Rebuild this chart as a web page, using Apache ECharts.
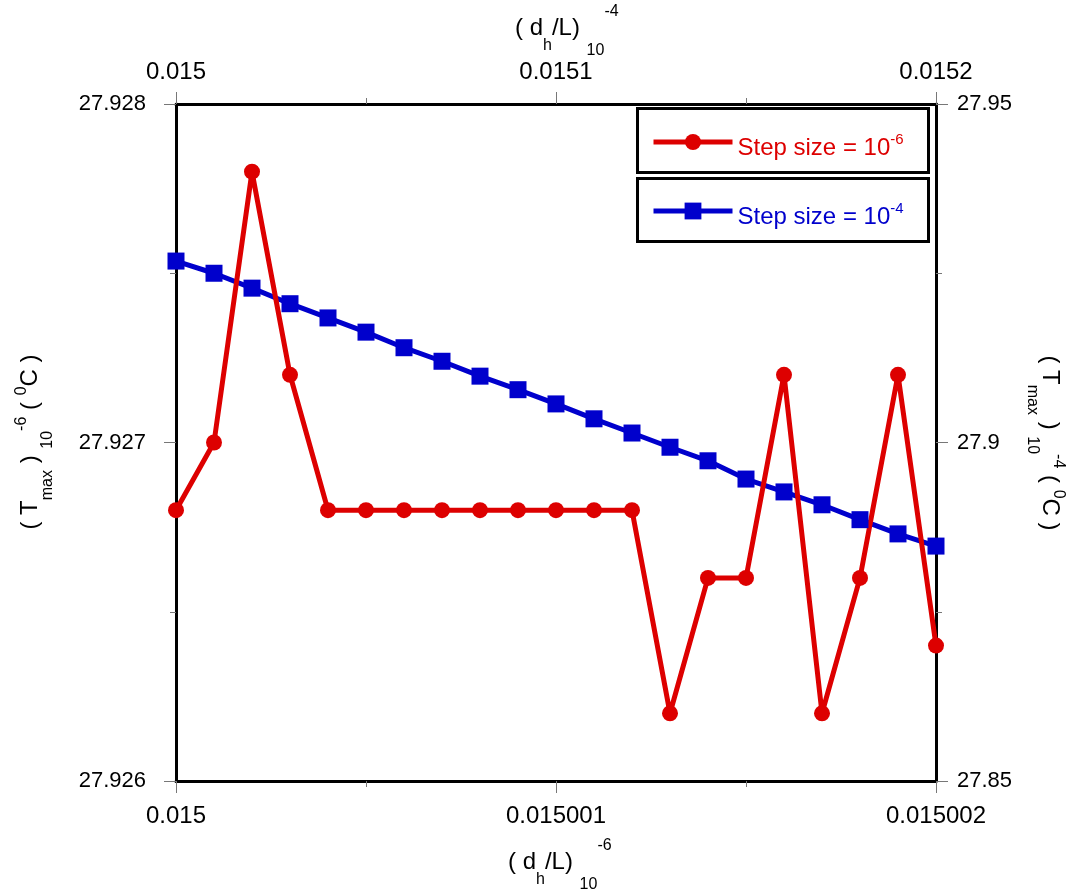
<!DOCTYPE html>
<html><head><meta charset="utf-8">
<script src="https://cdn.jsdelivr.net/npm/echarts@6/dist/echarts.min.js"></script>
<style>html,body{margin:0;padding:0;background:#fff}#c{width:1069px;height:892px}</style>
</head><body><div id="c"></div>
<script>
// ---- data ----
const redX = [0.015, 0.0150001, 0.0150002, 0.0150003, 0.0150004, 0.0150005, 0.0150006, 0.0150007, 0.0150008, 0.0150009, 0.015001,
              0.0150011, 0.0150012, 0.0150013, 0.0150014, 0.0150015, 0.0150016, 0.0150017, 0.0150018, 0.0150019, 0.015002];
const redY = [27.9268, 27.9270, 27.9278, 27.9272, 27.9268, 27.9268, 27.9268, 27.9268, 27.9268, 27.9268, 27.9268,
              27.9268, 27.9268, 27.9262, 27.9266, 27.9266, 27.9272, 27.9262, 27.9266, 27.9272, 27.9264];
const blueX = [0.015, 0.01501, 0.01502, 0.01503, 0.01504, 0.01505, 0.01506, 0.01507, 0.01508, 0.01509, 0.0151,
               0.01511, 0.01512, 0.01513, 0.01514, 0.01515, 0.01516, 0.01517, 0.01518, 0.01519, 0.0152];
const blueY = [27.9268, 27.9250, 27.9228, 27.9205, 27.9184, 27.9163, 27.9140, 27.9120, 27.9098, 27.9078, 27.9057,
               27.9035, 27.9014, 27.8993, 27.8973, 27.8946, 27.8927, 27.8908, 27.8886, 27.8865, 27.8847];
const bottomTickLabels = ['0.015', '0.015001', '0.015002'];
const topTickLabels = ['0.015', '0.0151', '0.0152'];
const leftTickLabels = ['27.926', '27.927', '27.928'];
const rightTickLabels = ['27.85', '27.9', '27.95'];
const redName = 'Step size = 10^-6';
const blueName = 'Step size = 10^-4';

// ---- styling ----
const FF = '"Liberation Sans", Arial, Helvetica, sans-serif';
const RED = '#dd0000', BLUE = '#0000cc';
const tickStyle = {color: '#777', width: 1};

function valAxis(o) {
  return Object.assign({
    type: 'value',
    axisLine: {show: true, onZero: false, lineStyle: {color: '#000', width: 3}},
    axisTick: {show: true, inside: false, length: 12, lineStyle: tickStyle},
    minorTick: {show: true, splitNumber: 2, length: 6, lineStyle: tickStyle},
    splitLine: {show: false},
    minorSplitLine: {show: false}
  }, o);
}
function lbl(labels, size, margin) {
  return {show: true, margin: margin, fontSize: size, fontFamily: FF, color: '#000',
          formatter: (v, i) => (labels[i] !== undefined ? labels[i] : '')};
}
function tok(size, pad, color) {
  return {fontSize: size, lineHeight: size, fontFamily: FF, color: color || '#000', verticalAlign: 'top', padding: [pad, 0, 0, 0]};
}
const hRich = {n: tok(24, 12), h: tok(16, 34), s: tok(16, 39), p: tok(16, 0)};
const vRich = {n: tok(24, 8), s: tok(16, 30), p: tok(16, 4)};
function legend(name, top, color, sup, ih) {
  return {
    data: [name], left: 651, top: top, orient: 'horizontal', selectedMode: false,
    borderWidth: 0, padding: 0,
    itemWidth: 79, itemHeight: ih, itemGap: 0,
    lineStyle: {width: 5},
    formatter: () => '{n|Step size = 10}{p|' + sup + '}',
    textStyle: {color: color, fontFamily: FF, rich: {n: tok(24, 6, color), p: tok(15, 2, color)}}
  };
}

const chart = echarts.init(document.getElementById('c'));
chart.setOption({
  animation: false,
  backgroundColor: '#fff',
  grid: {left: 176, right: 133, top: 104, bottom: 111, containLabel: false},
  xAxis: [
    valAxis({position: 'bottom', min: 0.015, max: 0.015002, interval: 0.000001, axisLabel: lbl(bottomTickLabels, 24, 23)}),
    valAxis({position: 'top', min: 0.015, max: 0.0152, interval: 0.0001, axisLabel: lbl(topTickLabels, 24, 20)})
  ],
  yAxis: [
    valAxis({position: 'left', min: 27.926, max: 27.928, interval: 0.001, axisLabel: lbl(leftTickLabels, 22, 30)}),
    valAxis({position: 'right', min: 27.85, max: 27.95, interval: 0.05, axisLabel: lbl(rightTickLabels, 22, 21)})
  ],
  legend: [legend(redName, 130, RED, '-6', 20), legend(blueName, 199, BLUE, '-4', 21)],
  graphic: [
    {type: 'rect', shape: {x: 637.5, y: 108.5, width: 291, height: 64}, style: {fill: 'none', stroke: '#000', lineWidth: 3}},
    {type: 'rect', shape: {x: 637.5, y: 178.5, width: 291, height: 63}, style: {fill: 'none', stroke: '#000', lineWidth: 3}},
    {type: 'text', x: 515, y: 16, style: {text: '{n|( d}{h|h}{n|/L) }{s|10}{p|-4}', rich: hRich, align: 'left', verticalAlign: 'middle'}},
    {type: 'text', x: 508, y: 850, style: {text: '{n|( d}{h|h}{n|/L) }{s|10}{p|-6}', rich: hRich, align: 'left', verticalAlign: 'middle'}},
    {type: 'text', x: 22, y: 442, rotation: Math.PI / 2, style: {text: '{n|( T}{s|max}{n| ) }{s|10}{p|-6}{n| ( }{p|0}{n|C )}', rich: vRich, align: 'center', verticalAlign: 'middle'}},
    {type: 'text', x: 1058, y: 443, rotation: -Math.PI / 2, style: {text: '{n|( T}{s|max}{n| ) }{s|10}{p|-4}{n| ( }{p|0}{n|C )}', rich: vRich, align: 'center', verticalAlign: 'middle'}}
  ],
  series: [
    {type: 'line', name: blueName, xAxisIndex: 1, yAxisIndex: 1,
     data: blueX.map((x, i) => [x, blueY[i]]),
     symbol: 'rect', symbolSize: 17, showSymbol: true, showAllSymbol: true,
     lineStyle: {color: BLUE, width: 5}, itemStyle: {color: BLUE}},
    {type: 'line', name: redName, xAxisIndex: 0, yAxisIndex: 0,
     data: redX.map((x, i) => [x, redY[i]]),
     symbol: 'circle', symbolSize: 16, showSymbol: true, showAllSymbol: true,
     lineStyle: {color: RED, width: 5}, itemStyle: {color: RED}}
  ]
});
</script>
</body></html>
